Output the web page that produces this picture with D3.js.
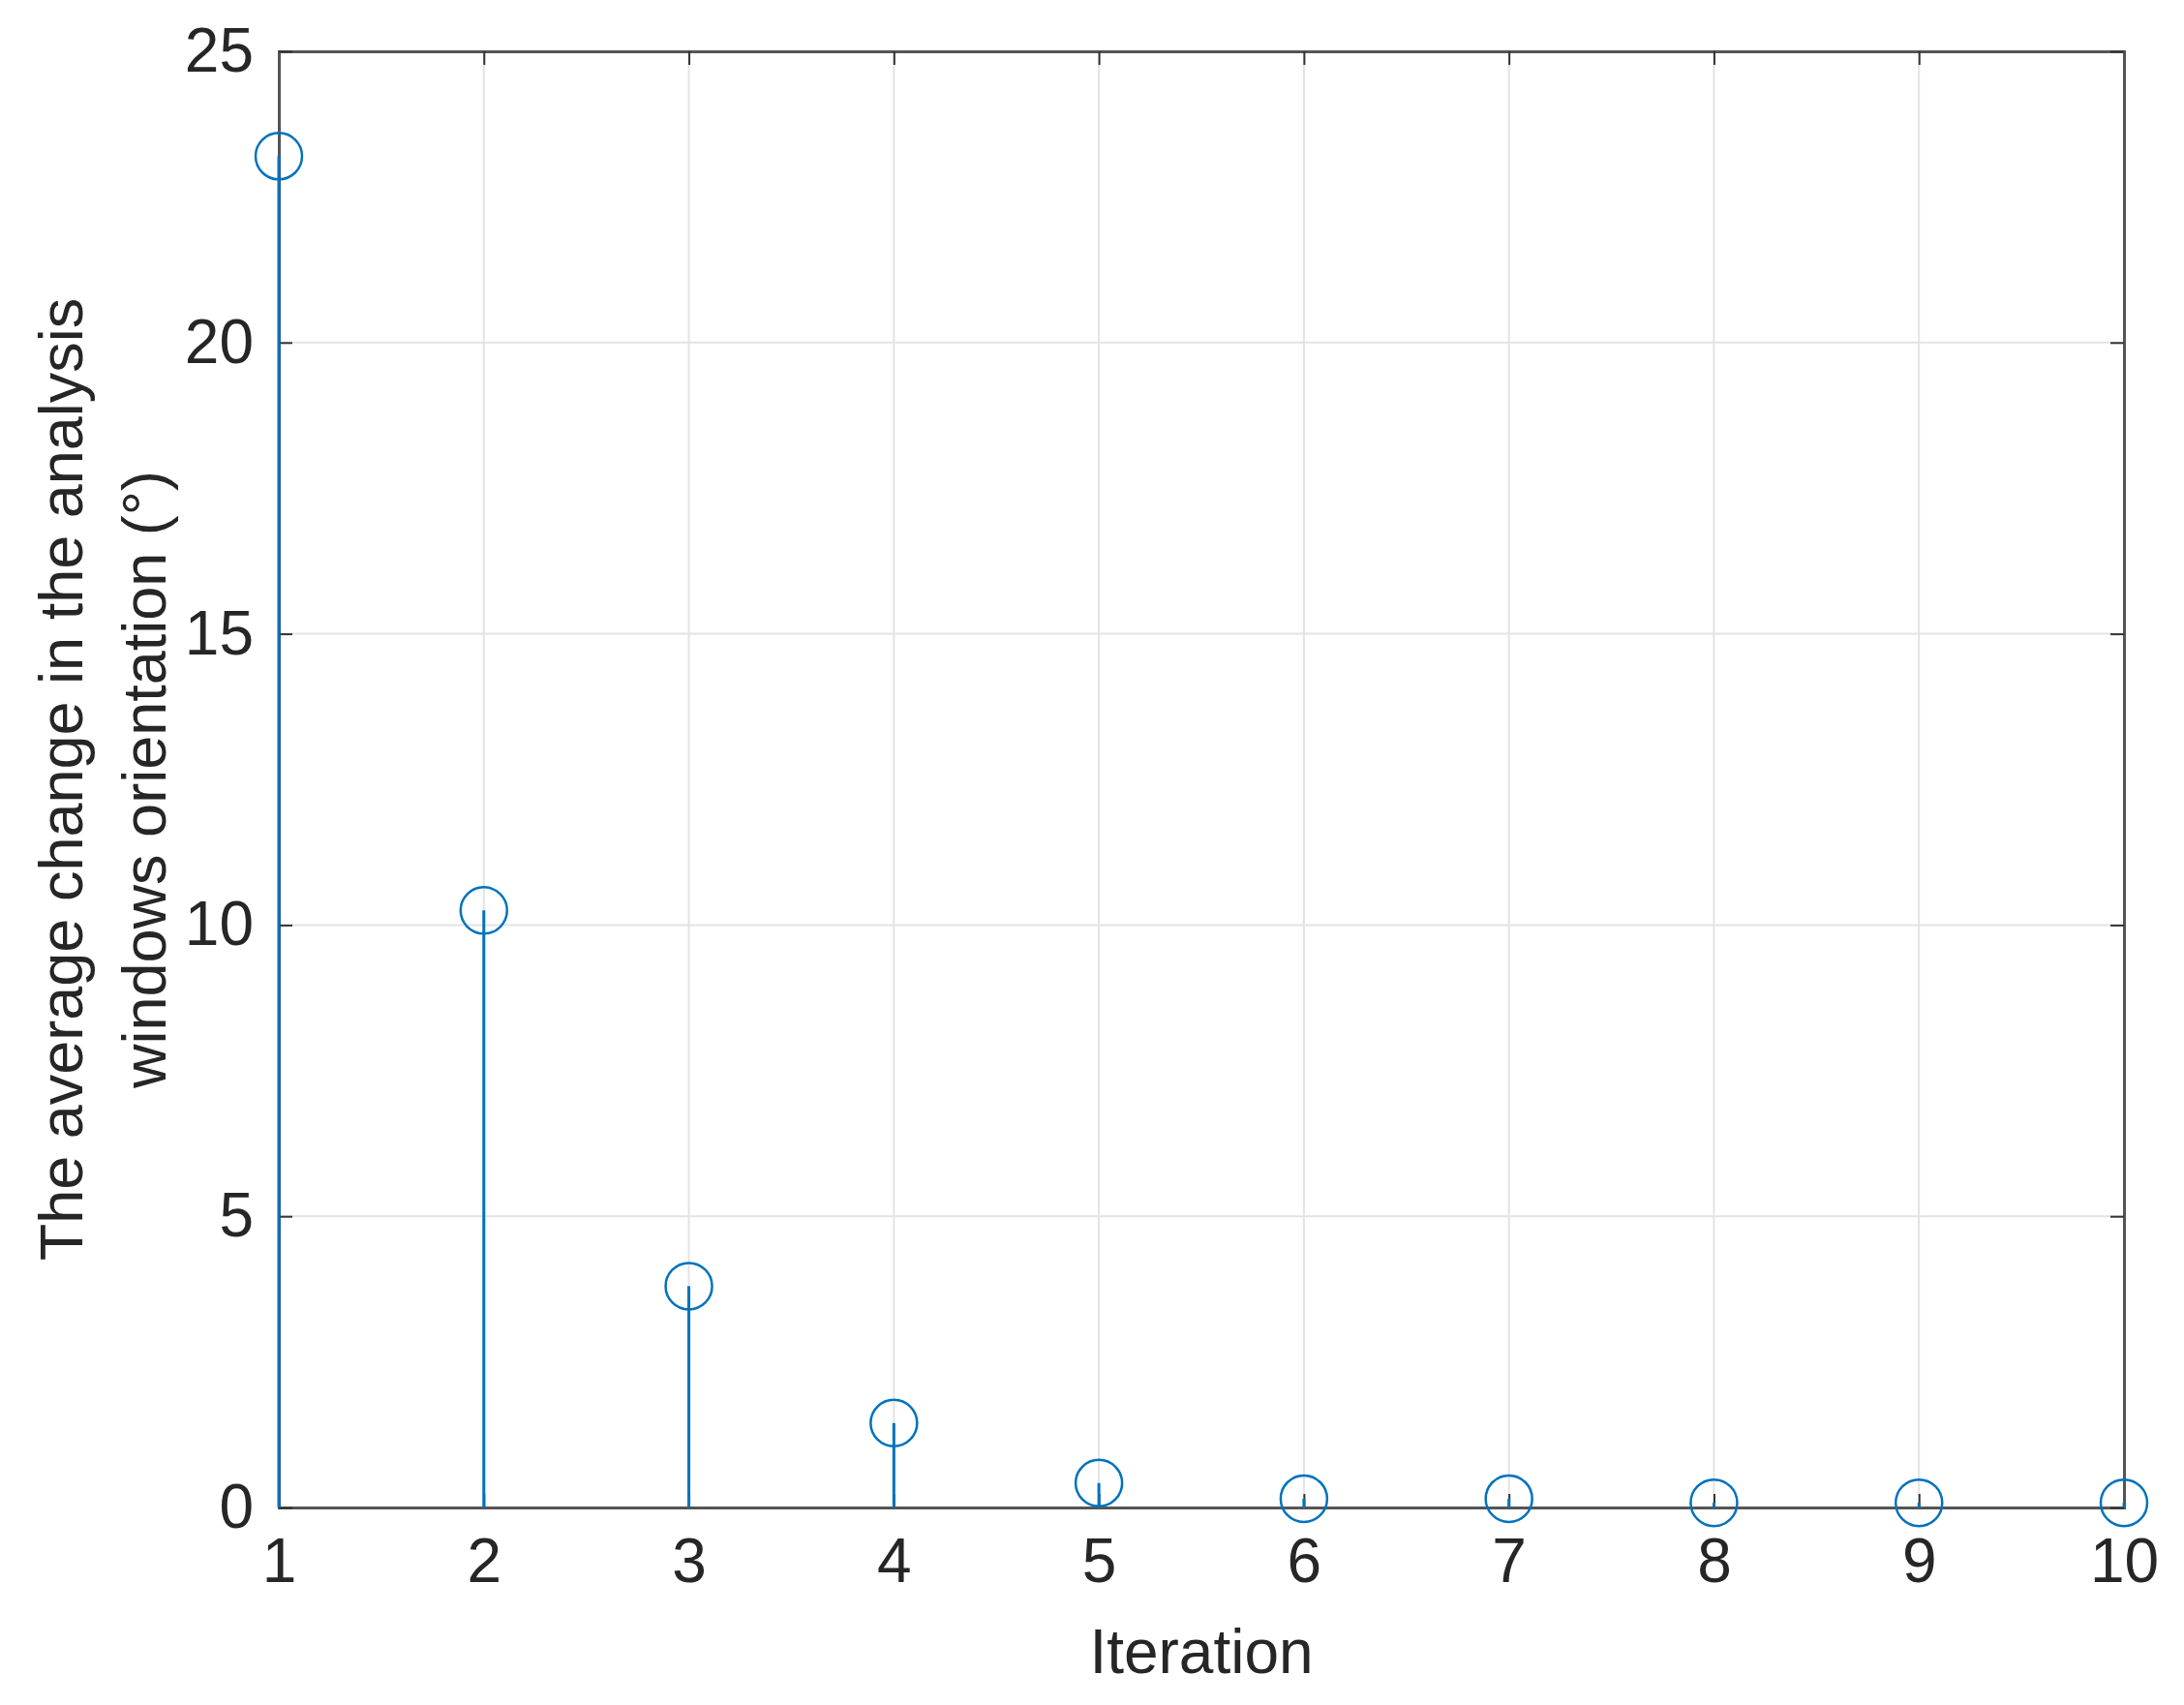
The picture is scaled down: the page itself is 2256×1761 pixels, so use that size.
<!DOCTYPE html>
<html><head><meta charset="utf-8">
<script src="https://cdn.jsdelivr.net/npm/d3@7"></script>
<style>body{margin:0;background:#fff}</style>
</head><body><div id="chart"></div>
<script>
// data
var iterations=[1,2,3,4,5,6,7,8,9,10];
var changes=[23.2,10.25,3.8,1.45,0.42,0.15,0.15,0.08,0.08,0.08];
var yTicks=[0,5,10,15,20,25];

var W=2256,H=1761;
var margin={"top":53,"right":62,"bottom":204,"left":288};
var font="'Liberation Sans', Arial, sans-serif";
var col="#0072BD";

var svg=d3.select("#chart").append("svg").attr("width",W).attr("height",H);
var x=d3.scaleLinear().domain([1,10]).range([margin.left,W-margin.right]);
var y=d3.scaleLinear().domain([0,25]).range([H-margin.bottom,margin.top]);

// grid
svg.append("g").selectAll("line").data(iterations).enter().append("line")
 .attr("x1",function(d){return x(d);}).attr("x2",function(d){return x(d);})
 .attr("y1",y(0)).attr("y2",y(25)).attr("stroke","#e3e3e3").attr("stroke-width",2);
svg.append("g").selectAll("line").data(yTicks).enter().append("line")
 .attr("y1",function(d){return y(d);}).attr("y2",function(d){return y(d);})
 .attr("x1",x(1)).attr("x2",x(10)).attr("stroke","#e3e3e3").attr("stroke-width",2);

// axes
var xb=svg.append("g").attr("transform","translate(0,"+y(0)+")")
 .call(d3.axisBottom(x).tickValues(iterations).tickSize(-14).tickPadding(32));
var xt=svg.append("g").attr("transform","translate(0,"+y(25)+")")
 .call(d3.axisTop(x).tickValues(iterations).tickSize(-14).tickFormat(""));
var yl=svg.append("g").attr("transform","translate("+x(1)+",0)")
 .call(d3.axisLeft(y).tickValues(yTicks).tickSize(-14).tickPadding(26));
var yr=svg.append("g").attr("transform","translate("+x(10)+",0)")
 .call(d3.axisRight(y).tickValues(yTicks).tickSize(-14).tickFormat(""));
[xb,xt,yl,yr].forEach(function(g){
 g.selectAll("path").attr("stroke","#555").attr("stroke-width",3);
 g.selectAll("line").attr("stroke","#333").attr("stroke-width",2);
 g.selectAll("text").attr("font-family",font).attr("font-size",64).attr("fill","#262626");
});
xb.selectAll("text").attr("dy","0.71em");

// stems
svg.append("g").selectAll("line").data(changes).enter().append("line")
 .attr("x1",function(d,i){return x(iterations[i]);}).attr("x2",function(d,i){return x(iterations[i]);})
 .attr("y1",y(0)).attr("y2",function(d){return y(d);})
 .attr("stroke",col).attr("stroke-width",3);
svg.append("g").selectAll("circle").data(changes).enter().append("circle")
 .attr("cx",function(d,i){return x(iterations[i]);}).attr("cy",function(d){return y(d);})
 .attr("r",24).attr("fill","none").attr("stroke",col).attr("stroke-width",2.5);

// labels
svg.append("text").attr("x",(x(1)+x(10))/2).attr("y",1728).attr("text-anchor","middle")
 .attr("font-family",font).attr("font-size",64).attr("fill","#262626").text("Iteration");
var yLab=["The average change in the analysis","windows orientation (°)"];
svg.append("g").selectAll("text").data(yLab).enter().append("text")
 .attr("transform",function(d,i){return "translate("+(85+i*86)+","+((y(0)+y(25))/2)+") rotate(-90)";})
 .attr("text-anchor","middle").attr("font-family",font).attr("font-size",63).attr("fill","#262626")
 .text(function(d){return d;});
</script></body></html>
